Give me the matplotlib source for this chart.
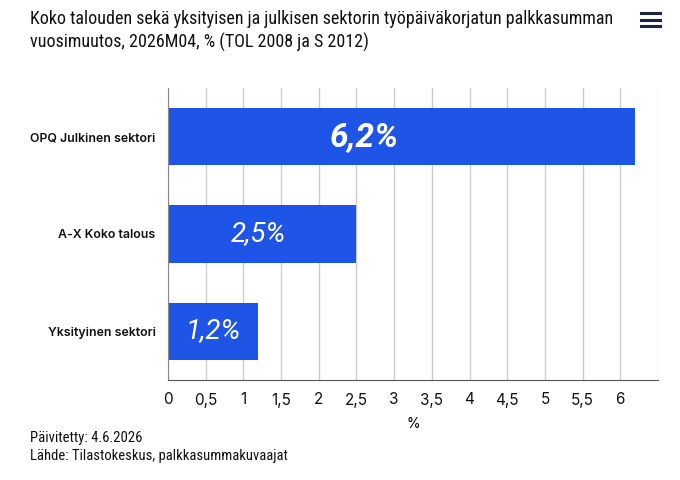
import matplotlib.pyplot as plt
from matplotlib.lines import Line2D

sectors = ['Yksityinen sektori', 'A-X Koko talous', 'OPQ Julkinen sektori']
changes = [1.2, 2.5, 6.2]
notes = ['1,2%', '2,5%', '6,2%']
xticks = [0, 0.5, 1, 1.5, 2, 2.5, 3, 3.5, 4, 4.5, 5, 5.5, 6]
xtick_labels = ['0', '0,5', '1', '1,5', '2', '2,5', '3', '3,5', '4', '4,5', '5', '5,5', '6']

title = ('Koko talouden sekä yksityisen ja julkisen sektorin työpäiväkorjatun palkkasumman\n'
         'vuosimuutos, 2026M04, % (TOL 2008 ja S 2012)')
footer = 'Päivitetty: 4.6.2026\nLähde: Tilastokeskus, palkkasummakuvaajat'

plt.rcParams['font.family'] = ['Roboto', 'DejaVu Sans']
blue = '#1f55e6'
narrow = ['Roboto Condensed', 'Liberation Sans Narrow', 'Roboto']

fig = plt.figure(figsize=(6.8, 4.8), dpi=100)
ax = fig.add_axes([168 / 680, 1 - 380 / 480, 490 / 680, 292 / 480])

ax.barh(range(len(sectors)), changes, height=0.59, color=blue, zorder=2)
ax.set_xlim(0, 6.5)
ax.set_ylim(-0.5, 2.5)

ax.set_xticks(xticks + [6.5])
ax.set_xticklabels(xtick_labels + [''], fontsize=11, family='Inter', color='#111111')
ax.set_yticks(range(len(sectors)))
ax.set_yticklabels(sectors, fontsize=8.9, family='Inter', fontweight='semibold', color='#111111')
ax.tick_params(axis='x', length=0, pad=9)
ax.tick_params(axis='y', length=0, pad=9)
ax.xaxis.grid(True, color='#cccccc', linewidth=1, zorder=0)
ax.set_axisbelow(True)
ax.set_xlabel('%', fontsize=10, family='Inter', labelpad=7)

for s in ['top', 'right']:
    ax.spines[s].set_visible(False)
ax.spines['left'].set_color('#888888')
ax.spines['bottom'].set_color('#555555')

# handwritten-looking labels
note_x = [0.6, 1.2, 2.6]
note_style = [dict(fontsize=20, fontstyle='italic'),
              dict(fontsize=20, fontstyle='italic'),
              dict(fontsize=24, fontweight='bold', fontstyle='italic')]
for i, (nx, txt) in enumerate(zip(note_x, notes)):
    ax.text(nx, i, txt, color='white', ha='center', va='center', zorder=3, **note_style[i])

fig.text(30 / 680, 1 - 10 / 480, title, ha='left', va='top', fontsize=13,
         family=narrow, linespacing=1.3, color='#111111')
fig.text(30 / 680, 1 - 431 / 480, footer, ha='left', va='top', fontsize=10.5,
         family=narrow, linespacing=1.35, color='#111111')

# menu icon
for yy in [13, 19.5, 26]:
    fig.add_artist(Line2D([641 / 680, 660 / 680], [1 - yy / 480] * 2, color='#1b2440', linewidth=2.2))

fig.savefig('out.png', dpi=100)
